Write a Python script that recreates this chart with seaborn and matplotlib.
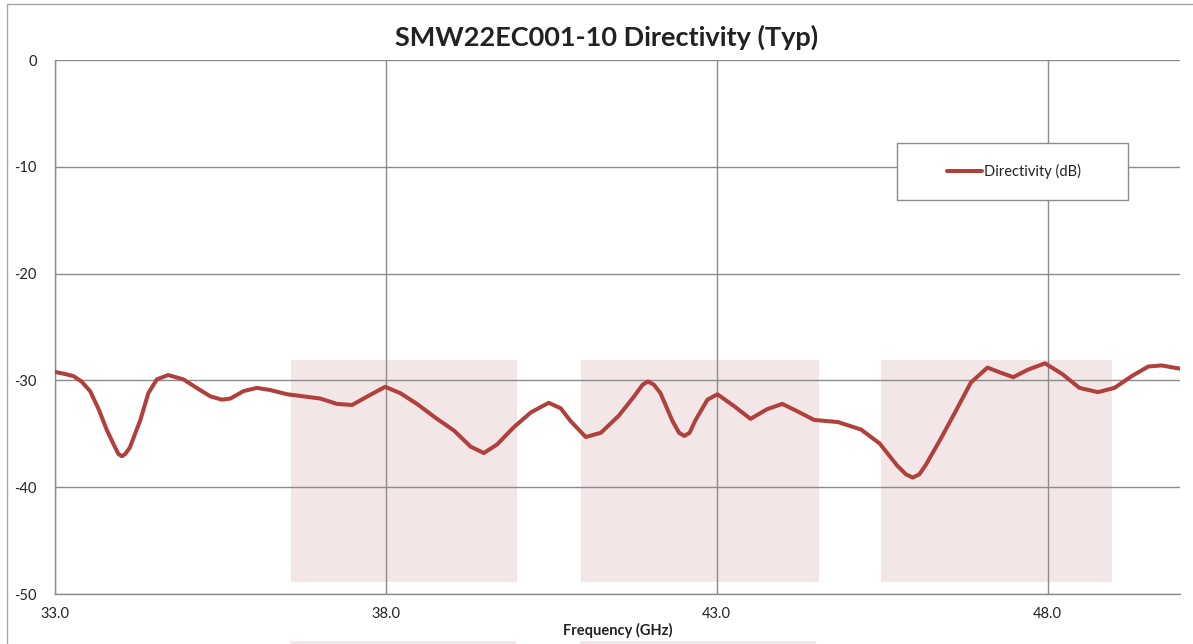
import numpy as np
import pandas as pd
import seaborn as sns
import matplotlib.pyplot as plt
from matplotlib.patches import Rectangle

# frequency (GHz) and directivity (dB)
freq = [33.00, 33.15, 33.28, 33.40, 33.53, 33.66, 33.78, 33.91, 33.96, 34.01,
        34.06, 34.13, 34.29, 34.41, 34.54, 34.71, 34.94, 35.14, 35.35, 35.52,
        35.65, 35.85, 36.05, 36.25, 36.51, 36.76, 37.01, 37.26, 37.49, 37.72,
        37.99, 38.22, 38.47, 38.75, 39.03, 39.28, 39.48, 39.68, 39.93, 40.19,
        40.46, 40.64, 40.79, 41.02, 41.25, 41.52, 41.75, 41.88, 41.96, 42.05,
        42.15, 42.33, 42.43, 42.51, 42.59, 42.68, 42.86, 43.01, 43.26, 43.51,
        43.76, 43.99, 44.22, 44.47, 44.83, 45.03, 45.18, 45.46, 45.73, 45.86,
        45.96, 46.06, 46.16, 46.39, 46.60, 46.84, 47.09, 47.30, 47.48, 47.70,
        47.96, 48.22, 48.48, 48.76, 49.01, 49.27, 49.52, 49.72, 50.00]
directivity = [-29.2, -29.4, -29.6, -30.1, -31.0, -32.7, -34.6, -36.3, -36.9, -37.1,
               -36.9, -36.3, -33.7, -31.2, -29.9, -29.5, -29.9, -30.7, -31.5, -31.8,
               -31.7, -31.0, -30.7, -30.9, -31.3, -31.5, -31.7, -32.2, -32.3, -31.5,
               -30.6, -31.2, -32.2, -33.5, -34.7, -36.2, -36.8, -36.0, -34.4, -33.0,
               -32.1, -32.6, -33.8, -35.3, -34.9, -33.3, -31.5, -30.4, -30.1, -30.4,
               -31.2, -33.8, -34.9, -35.2, -34.9, -33.7, -31.8, -31.3, -32.4, -33.6,
               -32.7, -32.2, -32.9, -33.7, -33.9, -34.3, -34.6, -35.9, -38.0, -38.8,
               -39.1, -38.8, -37.9, -35.4, -33.0, -30.2, -28.8, -29.3, -29.7, -29.0,
               -28.4, -29.4, -30.7, -31.1, -30.7, -29.6, -28.7, -28.6, -28.9]

x_ticks = [33.0, 38.0, 43.0, 48.0]
y_ticks = [0, -10, -20, -30, -40, -50]

df = pd.DataFrame({"Frequency (GHz)": freq, "Directivity (dB)": directivity})

sns.set_style("white")
plt.rcParams['font.family'] = ['Lato', 'DejaVu Sans']

fig = plt.figure(figsize=(11.93, 6.44), dpi=100)
ax = fig.add_axes([55 / 1193, 1 - 594 / 644, 1125 / 1193, 534 / 644])

# pale watermark blocks behind the plot
for x0, x1 in [(36.56, 39.98), (40.95, 44.54), (45.48, 48.97)]:
    ax.add_patch(Rectangle((x0, -48.9), x1 - x0, 20.8, facecolor="#f3e6e7",
                           edgecolor="none", zorder=0.5))
for px0, px1 in [(290, 516), (580, 816)]:
    fig.patches.append(Rectangle((px0 / 1193, 0), (px1 - px0) / 1193, 3 / 644,
                                 transform=fig.transFigure, facecolor="#f3e6e7",
                                 edgecolor="none"))

sns.lineplot(data=df, x="Frequency (GHz)", y="Directivity (dB)", ax=ax,
             color="#b0403c", linewidth=2.9, label="Directivity (dB)", zorder=3,
             solid_joinstyle="round", solid_capstyle="round")

ax.set_xlim(33, 50)
ax.set_ylim(-50, 0)
ax.set_xticks(x_ticks)
ax.set_xticklabels([f"{t:.1f}" for t in x_ticks])
ax.set_yticks(y_ticks)
ax.set_yticklabels([str(t) for t in y_ticks])
ax.grid(True, color="#8c8c8c", linewidth=1.0)
for ln in ax.get_xgridlines() + ax.get_ygridlines():
    ln.set_zorder(1)

for s in ["top", "right"]:
    ax.spines[s].set_visible(False)
for s in ["left", "bottom"]:
    ax.spines[s].set_color("#8c8c8c")
    ax.spines[s].set_linewidth(1.0)

ax.tick_params(axis="y", length=9, color="#8c8c8c", labelsize=10.5,
               labelcolor="#222222", pad=4)
ax.tick_params(axis="x", length=0, labelsize=10.5, labelcolor="#222222", pad=9)

ax.set_ylabel("")
ax.set_xlabel("Frequency (GHz)", fontsize=10.5, fontweight="bold",
              color="#222222", labelpad=2)
ax.set_title("SMW22EC001-10 Directivity (Typ)", fontsize=19.5, fontweight="bold",
             color="#222222", pad=10, x=0.49)

# legend: frameless entry plus a wide box as in the original
leg = ax.legend(loc="center left", bbox_to_anchor=(0.793, 0.7915), frameon=False,
                fontsize=10.5, handlelength=2.4, handletextpad=0.1,
                borderpad=0, borderaxespad=0)
for t in leg.get_texts():
    t.set_color("#222222")
ax.add_patch(Rectangle((0.748, 0.738), 0.206, 0.107, transform=ax.transAxes,
                       facecolor="white", edgecolor="#8c8c8c", linewidth=1.0,
                       zorder=4))
leg.set_zorder(5)

# chart area border
fig.patches.append(Rectangle((7 / 1193, -0.01), 1.0, 1 - 4 / 644 + 0.01,
                             transform=fig.transFigure, facecolor="none",
                             edgecolor="#a6a6a6", linewidth=1.0))

fig.savefig("out.png", dpi=100)
